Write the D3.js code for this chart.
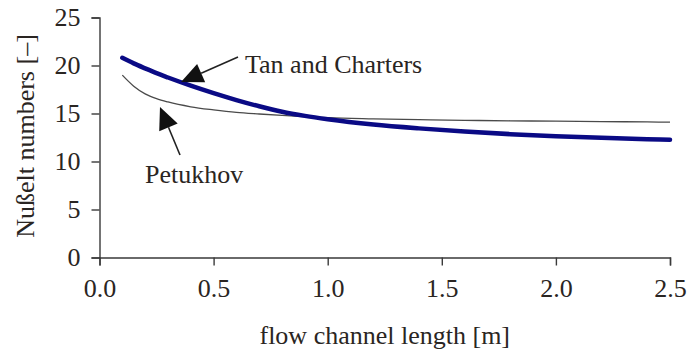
<!DOCTYPE html>
<html>
<head>
<meta charset="utf-8">
<script src="https://cdn.jsdelivr.net/npm/d3@7"></script>
<style>
  html, body { margin: 0; padding: 0; background: #fff; }
  svg { display: block; }
  text { font-family: "Liberation Serif", "Times New Roman", serif; fill: #2a2522; }
</style>
</head>
<body>
<svg id="chart" width="688" height="354"></svg>
<script>
// Nusselt number along the flow channel, two correlations
const channelLength = [0.1, 0.15, 0.2, 0.25, 0.3, 0.4, 0.5, 0.6, 0.7, 0.8, 0.9, 1.0, 1.2, 1.4, 1.6, 1.8, 2.0, 2.2, 2.4, 2.5];
const tanCharters   = [20.8, 20.22, 19.7, 19.2, 18.75, 17.9, 17.12, 16.4, 15.75, 15.18, 14.75, 14.4, 13.85, 13.45, 13.12, 12.85, 12.64, 12.47, 12.33, 12.27];
const petukhov      = [19.0, 17.85, 17.05, 16.55, 16.2, 15.7, 15.38, 15.12, 14.95, 14.8, 14.68, 14.57, 14.45, 14.36, 14.29, 14.24, 14.2, 14.16, 14.12, 14.1];
const xTicks = [0, 0.5, 1.0, 1.5, 2.0, 2.5];
const yTicks = [0, 5, 10, 15, 20, 25];
const xTitle = "flow channel length [m]";
const yTitle = "Nußelt numbers [–]";

const svg = d3.select("#chart");
const x = d3.scaleLinear().domain([0, 2.5]).range([99.5, 670]);
const y = d3.scaleLinear().domain([0, 25]).range([257.5, 17.5]);
const axisColor = "#3a3a3a";
const fontSize = 26;
const serif = '"Liberation Serif", "Times New Roman", serif';

// x axis
const gx = svg.append("g").attr("transform", `translate(0,${y(0)})`)
  .call(d3.axisBottom(x).tickValues(xTicks).tickFormat(d3.format(".1f")).tickSizeOuter(0).tickSize(8).tickPadding(13));
// y axis
const gy = svg.append("g").attr("transform", `translate(${x(0)},0)`)
  .call(d3.axisLeft(y).tickValues(yTicks).tickSizeOuter(0).tickSize(8).tickPadding(11));

[gx, gy].forEach(g => {
  g.attr("font-family", serif);
  g.select(".domain").attr("stroke", axisColor).attr("stroke-width", 1.4);
  g.selectAll(".tick line").attr("stroke", axisColor).attr("stroke-width", 1.4);
  g.selectAll(".tick text").attr("font-size", fontSize)
    .style("font-family", serif).attr("fill", "#2a2522");
});
gx.selectAll(".tick text").attr("dy", "0.71em");

// axis titles
svg.append("text").attr("x", (x(0) + x(2.5)) / 2).attr("y", 344)
  .attr("text-anchor", "middle").attr("font-size", fontSize).text(xTitle);
svg.append("text").attr("transform", "translate(34,136) rotate(-90)")
  .attr("text-anchor", "middle").attr("font-size", fontSize).text(yTitle);

// curves
const line = (vals) => d3.line().x((d, i) => x(channelLength[i])).y(d => y(d)).curve(d3.curveMonotoneX)(vals);
svg.append("path").attr("d", line(petukhov)).attr("fill", "none")
  .attr("stroke", "#4a4a4a").attr("stroke-width", 1.3);
svg.append("path").attr("d", line(tanCharters)).attr("fill", "none")
  .attr("stroke", "#0a0a85").attr("stroke-width", 4.5).attr("stroke-linecap", "round");

// annotation arrows
function arrow(from, to) {
  const [x1, y1] = from, [x2, y2] = to;
  const ang = Math.atan2(y2 - y1, x2 - x1);
  const len = 22, half = 10;
  const bx = x2 - len * Math.cos(ang), by = y2 - len * Math.sin(ang);
  const px = -Math.sin(ang) * half, py = Math.cos(ang) * half;
  svg.append("line").attr("x1", x1).attr("y1", y1).attr("x2", bx).attr("y2", by)
    .attr("stroke", "#222").attr("stroke-width", 1.6);
  svg.append("path")
    .attr("d", `M${x2},${y2}L${bx + px},${by + py}L${bx - px},${by - py}Z`)
    .attr("fill", "#111");
}
arrow([238, 57], [181, 82]);
arrow([180, 155], [160, 107]);

svg.append("text").attr("x", 245).attr("y", 73).attr("font-size", fontSize).text("Tan and Charters");
svg.append("text").attr("x", 145).attr("y", 183).attr("font-size", fontSize).text("Petukhov");
</script>
</body>
</html>
